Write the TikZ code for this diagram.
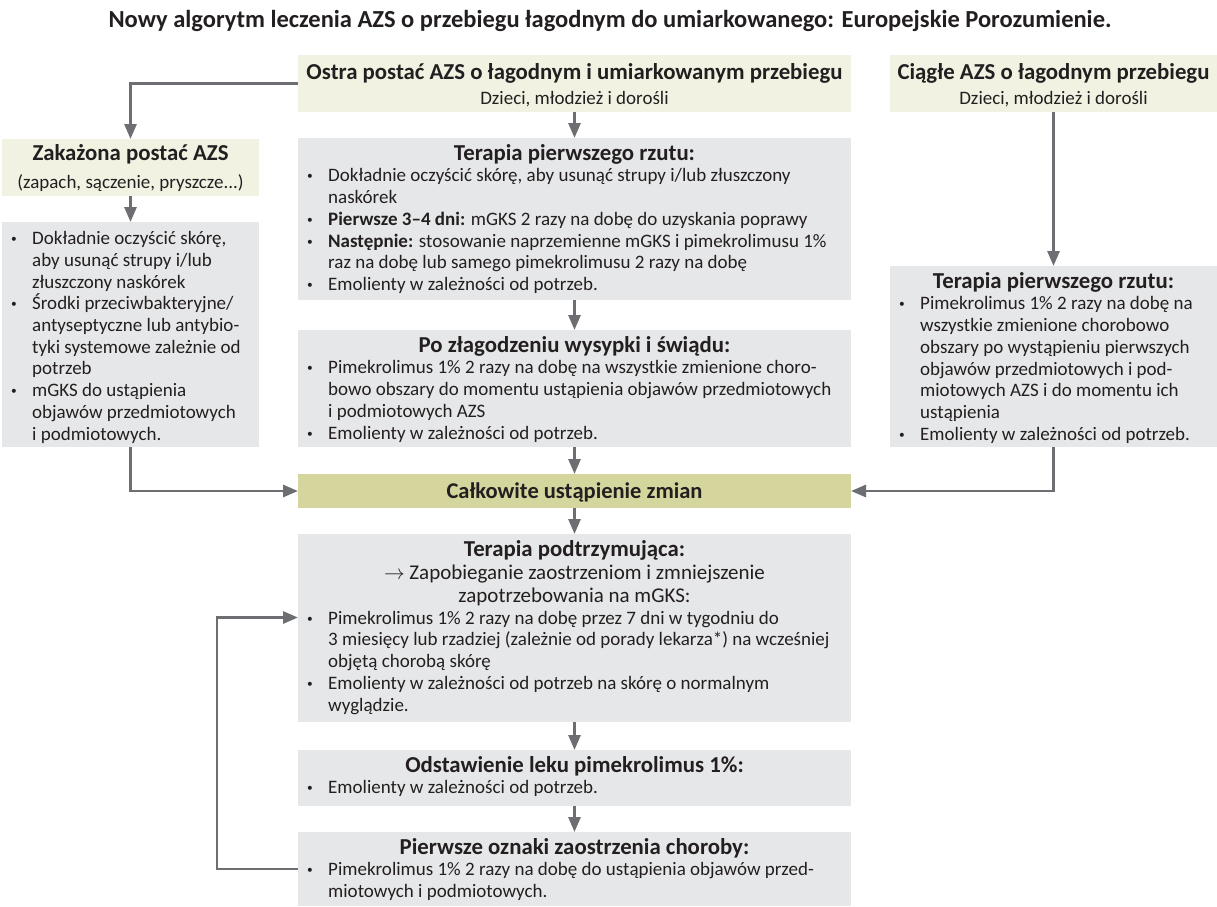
\documentclass[tikz,border=0pt]{standalone}
\usepackage{fontspec}
\setmainfont{Carlito}
\usetikzlibrary{arrows.meta,calc}
\definecolor{cream}{HTML}{F2F2E3}
\definecolor{boxgray}{HTML}{E6E7E8}
\definecolor{olivebox}{HTML}{D5D69E}
\definecolor{arrgray}{HTML}{6D6E71}
\definecolor{txt}{HTML}{231F20}
\newcommand\bl{\makebox[21pt][l]{\raisebox{2pt}{\scalebox{0.6}{•}}}}
\newcommand\ind{\hspace*{21pt}}
\newcommand\fl{\rule{0pt}{17pt}}
\newcommand\lsfix{\lineskiplimit=-100pt\relax}
\begin{document}
\begin{tikzpicture}[x=1pt,y=1pt,
  panel/.style={draw=none, inner sep=0pt, outer sep=0pt, anchor=north west},
  creambox/.style={panel, fill=cream},
  graybox/.style={panel, fill=boxgray},
  olbox/.style={panel, fill=olivebox},
  ttl/.style={inner sep=0pt, anchor=base, text=txt, font=\bfseries\fontsize{22.8}{26}\selectfont},
  sub/.style={inner sep=0pt, anchor=base, text=txt, font=\fontsize{19}{22}\selectfont},
  lst/.style={inner sep=0pt, anchor=north west, align=left, text=txt,
     font=\fontsize{19}{21.7}\selectfont\lsfix},
  arr/.style={draw=arrgray, line width=2.8pt, -{Triangle[length=15pt,width=12pt]}}]
\useasboundingbox (0,0) rectangle (1217,-906);
\fill[white] (0,0) rectangle (1217,-906);

% main title
\node[ttl, font=\bfseries\fontsize{24.5}{28}\selectfont] (head) at (610,-27) {Nowy algorytm leczenia AZS o przebiegu łagodnym do umiarkowanego: Europejskie Porozumienie.};

% boxes
\node[creambox, minimum width=553, minimum height=57] (A) at (298,-55) {};
\node[creambox, minimum width=327, minimum height=57] (B) at (890,-55) {};
\node[creambox, minimum width=257, minimum height=57] (zak) at (2,-139) {};
\node[graybox, minimum width=257, minimum height=225] (lbox) at (2,-222) {};
\node[graybox, minimum width=553, minimum height=162] (t1) at (298,-138) {};
\node[graybox, minimum width=553, minimum height=117] (t2) at (298,-330) {};
\node[graybox, minimum width=327, minimum height=181] (rbox) at (890,-266) {};
\node[olbox, minimum width=553, minimum height=34] (calk) at (298,-474) {};
\node[graybox, minimum width=553, minimum height=188] (podt) at (298,-534) {};
\node[graybox, minimum width=553, minimum height=56] (odst) at (298,-750) {};
\node[graybox, minimum width=553, minimum height=74] (pierw) at (298,-832) {};

% texts
\node[ttl] (Ah) at (574.5,-79.5) {Ostra postać AZS o łagodnym i umiarkowanym przebiegu};
\node[sub] (As) at (574.5,-104.5) {Dzieci, młodzież i dorośli};
\node[ttl] (Bh) at (1053.5,-79.5) {Ciągłe AZS o łagodnym przebiegu};
\node[sub] (Bs) at (1053.5,-104.5) {Dzieci, młodzież i dorośli};
\node[ttl] (zakh) at (130.5,-160.5) {Zakażona postać AZS};
\node[sub] (zaks) at (130.5,-188.5) {(zapach, sączenie, pryszcze...)};

\node[lst] (lboxt) at (11,-227.5) {\fl\bl Dokładnie oczyścić skórę,\\
\ind aby usunąć strupy i/lub\\
\ind złuszczony naskórek\\
\bl Środki przeciwbakteryjne/\\
\ind antyseptyczne lub antybio-\\
\ind tyki systemowe zależnie od\\
\ind potrzeb\\
\bl mGKS do ustąpienia\\
\ind objawów przedmiotowych\\
\ind i podmiotowych.};

\node[ttl] (t1h) at (574.5,-160) {Terapia pierwszego rzutu:};
\node[lst] (t1t) at (307,-164.7) {\fl\bl Dokładnie oczyścić skórę, aby usunąć strupy i/lub złuszczony\\
\ind naskórek\\
\bl\textbf{Pierwsze 3–4 dni:} mGKS 2 razy na dobę do uzyskania poprawy\\
\bl\textbf{Następnie:} stosowanie naprzemienne mGKS i pimekrolimusu 1\%\\
\ind raz na dobę lub samego pimekrolimusu 2 razy na dobę\\
\bl Emolienty w zależności od potrzeb.};

\node[ttl] (t2h) at (574.5,-352) {Po złagodzeniu wysypki i świądu:};
\node[lst] (t2t) at (307,-356.7) {\fl\bl Pimekrolimus 1\% 2 razy na dobę na wszystkie zmienione choro-\\
\ind bowo obszary do momentu ustąpienia objawów przedmiotowych\\
\ind i podmiotowych AZS\\
\bl Emolienty w zależności od potrzeb.};

\node[ttl] (rh) at (1053.5,-288) {Terapia pierwszego rzutu:};
\node[lst] (rt) at (899,-292.7) {\fl\bl Pimekrolimus 1\% 2 razy na dobę na\\
\ind wszystkie zmienione chorobowo\\
\ind obszary po wystąpieniu pierwszych\\
\ind objawów przedmiotowych i pod-\\
\ind miotowych AZS i do momentu ich\\
\ind ustąpienia\\
\bl Emolienty w zależności od potrzeb.};

\node[ttl, font=\bfseries\fontsize{22.5}{26}\selectfont] (calkh) at (574.5,-498.5) {Całkowite ustąpienie zmian};

\node[ttl] (podth) at (574.5,-556) {Terapia podtrzymująca:};
\node[sub, font=\fontsize{21}{23}\selectfont] (podts1) at (574.5,-579) {$\rightarrow$ Zapobieganie zaostrzeniom i zmniejszenie};
\node[sub, font=\fontsize{21}{23}\selectfont] (podts2) at (574.5,-602) {zapotrzebowania na mGKS:};
\node[lst] (podtt) at (307,-607) {\fl\bl Pimekrolimus 1\% 2 razy na dobę przez 7 dni w tygodniu do\\
\ind 3 miesięcy lub rzadziej (zależnie od porady lekarza*) na wcześniej\\
\ind objętą chorobą skórę\\
\bl Emolienty w zależności od potrzeb na skórę o normalnym\\
\ind wyglądzie.};

\node[ttl] (odsth) at (574.5,-772) {Odstawienie leku pimekrolimus 1\%:};
\node[lst] (odstt) at (307,-776.7) {\fl\bl Emolienty w zależności od potrzeb.};

\node[ttl] (pierwh) at (574.5,-854) {Pierwsze oznaki zaostrzenia choroby:};
\node[lst] (pierwt) at (307,-858.7) {\fl\bl Pimekrolimus 1\% 2 razy na dobę do ustąpienia objawów przed-\\
\ind miotowych i podmiotowych.};

% connectors
\draw[arr] (A.south) -- (t1.north);
\draw[arr] (A.west) -| (zak.north);
\draw[arr] (zak.south) -- (lbox.north);
\draw[arr] (t1.south) -- (t2.north);
\draw[arr] (t2.south) -- (calk.north);
\draw[arr] (lbox.south) |- (calk.west);
\draw[arr] (B.south) -- (rbox.north);
\draw[arr] (rbox.south) |- (calk.east);
\draw[arr] (calk.south) -- (podt.north);
\draw[arr] (podt.south) -- (odst.north);
\draw[arr] (odst.south) -- (pierw.north);
\coordinate (loopin) at ($(podt.north west)+(0,-83.5)$);
\draw[arr] (pierw.west) -- ++(-81,0) |- (loopin);
\end{tikzpicture}
\end{document}
